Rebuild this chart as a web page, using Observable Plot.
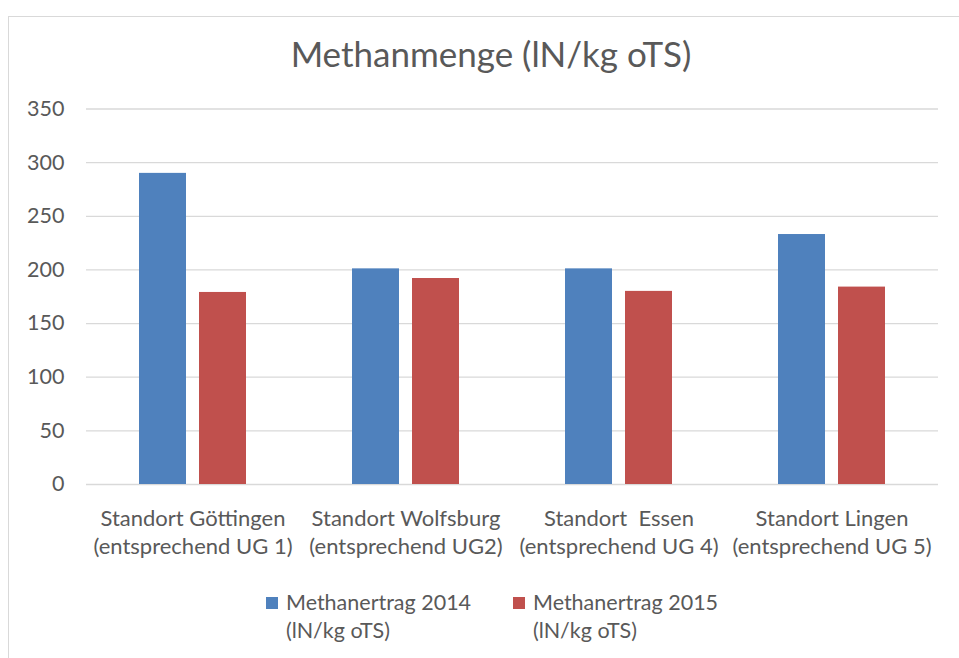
<!DOCTYPE html>
<html>
<head>
<meta charset="utf-8">
<script src="https://cdn.jsdelivr.net/npm/d3@7"></script>
<script src="https://cdn.jsdelivr.net/npm/@observablehq/plot@0.6"></script>
<style>
  html, body { margin: 0; padding: 0; background: #fff; }
  body { width: 959px; height: 658px; overflow: hidden; position: relative; font-family: Lato, "Open Sans", sans-serif; color: #595959; }
  #frame { position: absolute; left: 8px; top: 16px; width: 980px; height: 700px; border: 1px solid #d9d9d9; box-sizing: border-box; }
  #title { position: absolute; left: 0; width: 982px; top: 28px; text-align: center; font-size: 35px; line-height: 50px; color: #595959; }
  #chart { position: absolute; left: 0; top: 95px; }
  #chart svg text { white-space: pre; }
  #legend { position: absolute; left: 266px; top: 588px; display: flex; gap: 0; font-size: 21.5px; line-height: 28px; color: #595959; }
  .item { display: flex; align-items: flex-start; width: 247px; }
  .sw { width: 12px; height: 12px; margin-top: 9px; margin-right: 8px; flex: none; }
</style>
</head>
<body>
<div id="frame"></div>
<div id="title">Methanmenge (lN/kg oTS)</div>
<div id="chart"></div>
<div id="legend"></div>
<script>
const categories = ["Standort Göttingen", "Standort Wolfsburg", "Standort  Essen", "Standort Lingen"];
const subLabels = ["(entsprechend UG 1)", "(entsprechend UG2)", "(entsprechend UG 4)", "(entsprechend UG 5)"];
const seriesNames = ["Methanertrag 2014", "Methanertrag 2015"];
const seriesUnits = ["(lN/kg oTS)", "(lN/kg oTS)"];
const values2014 = [290, 201, 201, 233];
const values2015 = [179, 192, 180, 184];
const yTicks = [0, 50, 100, 150, 200, 250, 300, 350];
const colors = ["#4f81bd", "#c0504d"];

const data = [];
categories.forEach((c, i) => {
  data.push({cat: c, series: seriesNames[0], value: values2014[i]});
  data.push({cat: c, series: seriesNames[1], value: values2015[i]});
});

const chart = Plot.plot({
  width: 959,
  height: 464,
  marginLeft: 85,
  marginRight: 20,
  marginTop: 13.5,
  marginBottom: 75,
  style: {fontFamily: "Lato, 'Open Sans', sans-serif", color: "#595959", background: "transparent", overflow: "visible"},
  fx: {domain: categories, paddingInner: 0, paddingOuter: 0, label: null, axis: null},
  x: {domain: seriesNames, paddingInner: 0.215, paddingOuter: 0.872, axis: null},
  y: {domain: [0, 350], label: null},
  color: {domain: seriesNames, range: colors},
  marks: [
    Plot.gridY(yTicks, {stroke: "#d9d9d9", strokeOpacity: 1, strokeWidth: 1.3}),
    Plot.barY(data, {fx: "cat", x: "series", y: "value", fill: "series"}),
    Plot.axisY(yTicks, {tickSize: 0, tickPadding: 22, fontSize: 21.5, fill: "#595959", label: null}),
    Plot.axisFx({anchor: "bottom", tickSize: 0, tickPadding: 21, fontSize: 22, lineHeight: 1.28, fill: "#595959", label: null,
      tickFormat: d => d + "\n" + subLabels[categories.indexOf(d)]})
  ]
});
document.getElementById("chart").appendChild(chart);

const legend = document.getElementById("legend");
seriesNames.forEach((s, i) => {
  const item = document.createElement("div");
  item.className = "item";
  const sw = document.createElement("div");
  sw.className = "sw";
  sw.style.background = colors[i];
  const t = document.createElement("div");
  t.innerHTML = s + "<br>" + seriesUnits[i];
  item.appendChild(sw);
  item.appendChild(t);
  legend.appendChild(item);
});
</script>
</body>
</html>
